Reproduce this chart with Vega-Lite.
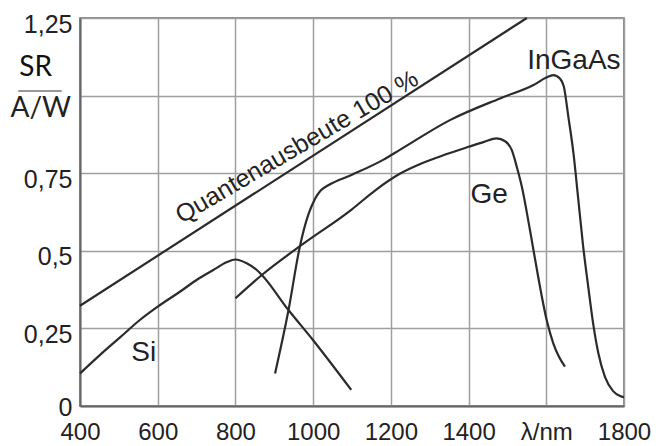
{
  "$schema": "https://vega.github.io/schema/vega-lite/v6.json",
  "width": 544,
  "height": 388,
  "autosize": {"type": "none"},
  "padding": {"left": 80, "top": 18, "right": 36, "bottom": 40},
  "background": "white",
  "config": {
    "view": {"stroke": "#666666", "strokeWidth": 1.5},
    "font": "Liberation Sans"
  },
  "datasets": {
    "curves": [
      {"series": "QE", "lambda": 400, "sr": 0.323},
      {"series": "QE", "lambda": 1550, "sr": 1.25},
      {"series": "Si", "lambda": 400, "sr": 0.105},
      {"series": "Si", "lambda": 451, "sr": 0.164},
      {"series": "Si", "lambda": 503, "sr": 0.221},
      {"series": "Si", "lambda": 554, "sr": 0.277},
      {"series": "Si", "lambda": 600, "sr": 0.32},
      {"series": "Si", "lambda": 657, "sr": 0.368},
      {"series": "Si", "lambda": 700, "sr": 0.406},
      {"series": "Si", "lambda": 743, "sr": 0.438},
      {"series": "Si", "lambda": 777, "sr": 0.463},
      {"series": "Si", "lambda": 800, "sr": 0.472},
      {"series": "Si", "lambda": 829, "sr": 0.46},
      {"series": "Si", "lambda": 855, "sr": 0.438},
      {"series": "Si", "lambda": 868, "sr": 0.422},
      {"series": "Si", "lambda": 936, "sr": 0.31},
      {"series": "Si", "lambda": 1000, "sr": 0.212},
      {"series": "Si", "lambda": 1098, "sr": 0.052},
      {"series": "Ge", "lambda": 800, "sr": 0.347},
      {"series": "Ge", "lambda": 868, "sr": 0.422},
      {"series": "Ge", "lambda": 966, "sr": 0.515},
      {"series": "Ge", "lambda": 1099, "sr": 0.633},
      {"series": "Ge", "lambda": 1160, "sr": 0.695},
      {"series": "Ge", "lambda": 1223, "sr": 0.748},
      {"series": "Ge", "lambda": 1280, "sr": 0.782},
      {"series": "Ge", "lambda": 1340, "sr": 0.81},
      {"series": "Ge", "lambda": 1400, "sr": 0.835},
      {"series": "Ge", "lambda": 1440, "sr": 0.851},
      {"series": "Ge", "lambda": 1472, "sr": 0.862},
      {"series": "Ge", "lambda": 1494, "sr": 0.853},
      {"series": "Ge", "lambda": 1511, "sr": 0.825},
      {"series": "Ge", "lambda": 1524, "sr": 0.771},
      {"series": "Ge", "lambda": 1537, "sr": 0.707},
      {"series": "Ge", "lambda": 1558, "sr": 0.567},
      {"series": "Ge", "lambda": 1579, "sr": 0.417},
      {"series": "Ge", "lambda": 1601, "sr": 0.277},
      {"series": "Ge", "lambda": 1618, "sr": 0.202},
      {"series": "Ge", "lambda": 1632, "sr": 0.16},
      {"series": "Ge", "lambda": 1648, "sr": 0.127},
      {"series": "InGaAs", "lambda": 902, "sr": 0.105},
      {"series": "InGaAs", "lambda": 936, "sr": 0.305},
      {"series": "InGaAs", "lambda": 966, "sr": 0.515},
      {"series": "InGaAs", "lambda": 988, "sr": 0.618},
      {"series": "InGaAs", "lambda": 1005, "sr": 0.668},
      {"series": "InGaAs", "lambda": 1020, "sr": 0.695},
      {"series": "InGaAs", "lambda": 1040, "sr": 0.712},
      {"series": "InGaAs", "lambda": 1100, "sr": 0.745},
      {"series": "InGaAs", "lambda": 1180, "sr": 0.793},
      {"series": "InGaAs", "lambda": 1223, "sr": 0.825},
      {"series": "InGaAs", "lambda": 1352, "sr": 0.921},
      {"series": "InGaAs", "lambda": 1481, "sr": 0.991},
      {"series": "InGaAs", "lambda": 1567, "sr": 1.034},
      {"series": "InGaAs", "lambda": 1600, "sr": 1.058},
      {"series": "InGaAs", "lambda": 1618, "sr": 1.066},
      {"series": "InGaAs", "lambda": 1635, "sr": 1.055},
      {"series": "InGaAs", "lambda": 1645, "sr": 1.03},
      {"series": "InGaAs", "lambda": 1657, "sr": 0.93},
      {"series": "InGaAs", "lambda": 1670, "sr": 0.814},
      {"series": "InGaAs", "lambda": 1682, "sr": 0.67},
      {"series": "InGaAs", "lambda": 1695, "sr": 0.513},
      {"series": "InGaAs", "lambda": 1708, "sr": 0.384},
      {"series": "InGaAs", "lambda": 1721, "sr": 0.262},
      {"series": "InGaAs", "lambda": 1734, "sr": 0.17},
      {"series": "InGaAs", "lambda": 1751, "sr": 0.094},
      {"series": "InGaAs", "lambda": 1772, "sr": 0.048},
      {"series": "InGaAs", "lambda": 1790, "sr": 0.032},
      {"series": "InGaAs", "lambda": 1800, "sr": 0.028}
    ],
    "labels": [
      {"label": "Si", "lambda": 564, "sr": 0.172},
      {"label": "Ge", "lambda": 1453, "sr": 0.68},
      {"label": "InGaAs", "lambda": 1671, "sr": 1.111}
    ]
  },
  "layer": [
    {
      "data": {"name": "curves"},
      "mark": {"type": "line", "interpolate": "monotone", "color": "#2b2b2b", "strokeWidth": 2.2},
      "encoding": {
        "x": {
          "field": "lambda", "type": "quantitative", "title": null,
          "scale": {"domain": [400, 1800], "nice": false, "zero": false},
          "axis": {
            "title": null,
            "values": [400, 500, 600, 700, 800, 900, 1000, 1100, 1200, 1300, 1400, 1500, 1600, 1700, 1800],
            "labelExpr": "datum.value % 200 != 0 ? '' : (datum.value == 1600 ? 'λ/nm' : '' + datum.value)",
            "grid": true, "gridColor": "#9f9f9f", "gridWidth": 1.5, "gridOpacity": 1,
            "ticks": false, "tickSize": 0,
            "domain": true, "domainColor": "#666666", "domainWidth": 2,
            "labelFont": "Liberation Sans", "labelFontSize": 24, "labelColor": "#222222",
            "labelPadding": 14, "labelFlush": false, "labelOverlap": false, "labelBound": false
          }
        },
        "y": {
          "field": "sr", "type": "quantitative", "title": null,
          "scale": {"domain": [0, 1.25], "nice": false},
          "axis": {
            "title": null,
            "values": [0, 0.25, 0.5, 0.75, 1, 1.25],
            "labelExpr": "datum.value == 1 ? '' : replace(format(datum.value, ''), '.', ',')",
            "grid": true, "gridColor": "#9f9f9f", "gridWidth": 1.5, "gridOpacity": 1,
            "ticks": false, "tickSize": 0,
            "domain": true, "domainColor": "#666666", "domainWidth": 2,
            "labelFont": "Liberation Sans", "labelFontSize": 25, "labelColor": "#222222",
            "labelPadding": 8,
            "labelOffset": {"condition": {"test": "datum.value == 0", "value": 1}, "value": 6},
            "labelBaseline": "middle",
            "labelFlush": false, "labelOverlap": false, "labelBound": false
          }
        },
        "detail": {"field": "series"}
      }
    },
    {
      "data": {"name": "labels"},
      "mark": {"type": "text", "font": "Liberation Sans", "fontSize": 28, "color": "#222222", "align": "center", "baseline": "middle"},
      "encoding": {
        "x": {"field": "lambda", "type": "quantitative", "title": null},
        "y": {"field": "sr", "type": "quantitative", "title": null},
        "text": {"field": "label"}
      }
    },
    {
      "data": {"values": [{}]},
      "mark": {"type": "text", "font": "Liberation Sans", "fontSize": 25, "color": "#222222", "align": "center", "baseline": "middle", "angle": -30.5},
      "encoding": {
        "x": {"datum": 958, "type": "quantitative", "title": null},
        "y": {"datum": 0.835, "type": "quantitative", "title": null},
        "text": {"value": "Quantenausbeute 100 %"}
      }
    },
    {
      "data": {"values": [{}]},
      "mark": {"type": "text", "font": "Lato", "fontSize": 28, "color": "#111111", "align": "center", "baseline": "middle"},
      "encoding": {
        "x": {"datum": 286, "type": "quantitative", "title": null},
        "y": {"datum": 1.089, "type": "quantitative", "title": null},
        "text": {"value": "SR"}
      }
    },
    {
      "data": {"values": [{}]},
      "mark": {"type": "text", "font": "Lato", "fontSize": 28, "color": "#222222", "align": "center", "baseline": "middle"},
      "encoding": {
        "x": {"datum": 299, "type": "quantitative", "title": null},
        "y": {"datum": 0.957, "type": "quantitative", "title": null},
        "text": {"value": "A/W"}
      }
    },
    {
      "data": {"values": [{}]},
      "mark": {"type": "rule", "color": "#777777", "strokeWidth": 1.5},
      "encoding": {
        "x": {"datum": 241, "type": "quantitative", "title": null},
        "x2": {"datum": 353},
        "y": {"datum": 1.015, "type": "quantitative", "title": null}
      }
    }
  ]
}
